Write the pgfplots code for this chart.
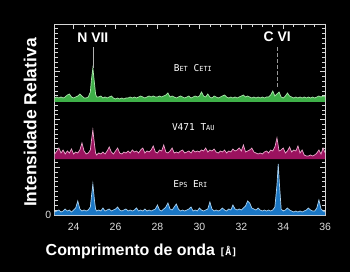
\documentclass[border=0pt]{standalone}
\usepackage{fontspec}
\setmainfont{Liberation Sans}
\newfontfamily\monof{DejaVu Sans Mono}
\usepackage{pgfplots}
\pgfplotsset{compat=1.18}
\usepackage{pgfplotstable}
\definecolor{gfill}{RGB}{62,176,72}
\definecolor{gline}{RGB}{170,230,170}
\definecolor{mfill}{RGB}{155,18,95}
\definecolor{mline}{RGB}{235,170,205}
\definecolor{bfill}{RGB}{26,118,196}
\definecolor{bline}{RGB}{170,210,240}
\definecolor{framec}{RGB}{215,215,215}

\pgfplotstableread{
x h
23.1 4
23.2 5
23.3 4
23.4 5
23.5 4
23.6 5
23.7 7
23.8 8
23.9 5
24.0 4
24.1 5
24.2 6
24.3 8
24.4 6
24.5 4
24.6 4
24.7 5
24.8 10
24.85 22
24.92 34
25.0 18
25.05 8
25.1 5
25.2 5
25.3 6
25.4 4
25.5 5
25.6 4
25.7 5
25.8 6
25.9 4
26.0 3
26.1 4
26.2 3
26.3 4
26.4 3
26.5 4
26.6 4
26.7 5
26.8 4
26.9 5
27.0 4
27.1 5
27.2 6
27.3 5
27.4 4
27.5 5
27.6 6
27.7 5
27.8 6
27.9 5
28.0 5
28.1 6
28.2 5
28.3 6
28.4 7
28.5 9
28.6 5
28.7 6
28.8 5
28.9 4
29.0 5
29.1 6
29.2 5
29.3 4
29.4 5
29.5 6
29.6 4
29.7 5
29.8 6
29.9 5
30.0 6
30.1 10
30.2 6
30.3 5
30.4 8
30.5 5
30.6 4
30.7 6
30.8 5
30.9 4
31.0 5
31.1 6
31.2 7
31.3 5
31.4 4
31.5 5
31.6 4
31.7 5
31.8 4
31.9 5
32.0 6
32.1 7
32.2 5
32.3 6
32.4 5
32.5 4
32.6 5
32.7 4
32.8 5
32.9 4
33.0 5
33.1 4
33.2 5
33.3 5
33.4 7
33.5 11
33.6 6
33.7 8
33.8 10
33.9 5
34.0 4
34.1 6
34.2 9
34.3 6
34.4 5
34.5 4
34.6 5
34.7 4
34.8 5
34.9 4
35.0 5
35.1 4
35.2 5
35.3 4
35.4 5
35.5 4
35.6 5
35.7 6
35.8 5
35.9 6
36.0 5
}\greentab

\pgfplotstableread{
x h
23.1 5
23.2 8
23.3 11
23.4 6
23.5 9
23.6 5
23.7 8
23.8 6
23.9 10
24.0 5
24.1 7
24.2 6
24.3 9
24.4 16
24.5 8
24.6 5
24.7 6
24.8 9
24.85 18
24.92 29
25.0 14
25.05 6
25.1 4
25.2 6
25.3 5
25.4 7
25.5 5
25.6 8
25.7 12
25.8 7
25.9 5
26.0 8
26.1 11
26.2 6
26.3 5
26.4 7
26.5 6
26.6 8
26.7 6
26.8 9
26.9 7
27.0 8
27.1 6
27.2 9
27.3 11
27.4 6
27.5 8
27.6 7
27.7 9
27.8 13
27.9 7
28.0 6
28.1 9
28.2 8
28.3 14
28.4 7
28.5 6
28.6 8
28.7 11
28.8 6
28.9 7
29.0 6
29.1 8
29.2 9
29.3 6
29.4 7
29.5 8
29.6 6
29.7 9
29.8 7
29.9 8
30.0 7
30.1 9
30.2 8
30.3 11
30.4 7
30.5 9
30.6 8
30.7 10
30.8 7
30.9 6
31.0 8
31.1 7
31.2 9
31.3 6
31.4 8
31.5 7
31.6 10
31.7 8
31.8 9
31.9 11
32.0 8
32.1 14
32.2 7
32.3 8
32.4 9
32.5 11
32.6 7
32.7 6
32.8 5
32.9 6
33.0 5
33.1 7
33.2 8
33.3 6
33.4 9
33.5 8
33.6 12
33.7 21
33.8 8
33.9 9
34.0 11
34.1 6
34.2 8
34.3 12
34.4 7
34.5 9
34.6 8
34.7 13
34.8 6
34.9 9
35.0 4
35.1 3
35.2 3
35.3 4
35.4 3
35.5 4
35.6 6
35.7 9
35.8 5
35.9 11
36.0 6
}\magentatab

\pgfplotstableread{
x h
23.1 3
23.2 4
23.3 5
23.4 3
23.5 4
23.6 6
23.7 4
23.8 5
23.9 3
24.0 5
24.1 7
24.2 14
24.3 6
24.4 4
24.5 5
24.6 4
24.7 5
24.8 8
24.85 18
24.92 31
25.0 14
25.05 6
25.1 4
25.2 5
25.3 4
25.4 7
25.5 4
25.6 5
25.7 6
25.8 4
25.9 5
26.0 6
26.1 8
26.2 5
26.3 4
26.4 5
26.5 6
26.6 4
26.7 5
26.8 4
26.9 5
27.0 7
27.1 4
27.2 5
27.3 4
27.4 6
27.5 4
27.6 5
27.7 4
27.8 5
27.9 6
28.0 10
28.1 5
28.2 4
28.3 6
28.4 8
28.5 12
28.6 6
28.7 5
28.8 8
28.9 11
29.0 6
29.1 4
29.2 5
29.3 4
29.4 5
29.5 6
29.6 8
29.7 4
29.8 5
29.9 4
30.0 7
30.1 5
30.2 4
30.3 5
30.4 6
30.5 13
30.6 6
30.7 4
30.8 5
30.9 4
31.0 5
31.1 7
31.2 5
31.3 4
31.4 6
31.5 5
31.6 10
31.7 6
31.8 5
31.9 6
32.0 5
32.1 7
32.2 9
32.3 14
32.4 12
32.5 7
32.6 6
32.7 5
32.8 7
32.9 5
33.0 4
33.1 5
33.2 4
33.3 5
33.4 4
33.5 5
33.6 8
33.7 30
33.76 51
33.82 30
33.9 6
34.0 4
34.1 5
34.2 7
34.3 5
34.4 4
34.5 3
34.6 4
34.7 3
34.8 4
34.9 3
35.0 4
35.1 5
35.2 7
35.3 5
35.4 4
35.5 4
35.6 7
35.7 15
35.8 6
35.9 4
36.0 3
}\bluetab

\begin{document}
\begin{tikzpicture}
\fill[black] (-54.7bp,-57bp) rectangle (295.3bp,215bp);
\begin{axis}[
  at={(0,0)}, anchor=south west,
  scale only axis, width=270.5bp, height=191bp,
  xmin=23.1, xmax=36, ymin=0, ymax=191,
  axis line style={framec, line width=0.8pt},
  xtick={24,26,...,36}, minor x tick num=3,
  ytick={0,47.75,95.5,143.25,191}, yticklabels={0,,,,},
  minor y tick num=9,
  tick align=inside,
  major tick length=5bp, minor tick length=3bp,
  every tick/.style={framec, line width=0.6pt},
  /pgf/number format/assume math mode=true,
  ticklabel style={text=gray!25, font=\fontsize{10.5}{10.5}\selectfont},
  xticklabel style={yshift=-5bp},
  xlabel={\fontsize{16}{16}\selectfont\bfseries Comprimento de onda \monof\fontsize{10}{10}\selectfont [Å]},
  xlabel style={text=white, at={(axis description cs:0.321,0)}, anchor=base, yshift=-40bp},
  ylabel={\fontsize{17.5}{17.5}\selectfont\bfseries Intensidade Relativa},
  ylabel style={text=white, at={(axis description cs:-0.091,0.484)}, anchor=center, rotate=0},
  clip=false,
]
% green
\addplot[fill=gfill, draw=none] table[x=x, y expr=\thisrow{h}+113] {\greentab} |- (axis cs:23.1,113) -- cycle;
\addplot[gline, line width=0.7pt] table[x=x, y expr=\thisrow{h}+113] {\greentab};
% magenta
\addplot[fill=mfill, draw=none] table[x=x, y expr=\thisrow{h}+56] {\magentatab} |- (axis cs:23.1,56) -- cycle;
\addplot[mline, line width=0.7pt] table[x=x, y expr=\thisrow{h}+56] {\magentatab};
% blue
\addplot[fill=bfill, draw=none] table[x=x, y expr=\thisrow{h}] {\bluetab} |- (axis cs:23.1,0) -- cycle;
\addplot[bline, line width=0.7pt] table[x=x, y expr=\thisrow{h}] {\bluetab};
% line markers
\addplot[gray!60, line width=0.6pt] coordinates {(24.92,168) (24.92,147)};
\addplot[gray!80, line width=0.6pt, dash pattern=on 4pt off 2pt] coordinates {(33.71,168) (33.71,127)};
\node[text=white, font=\fontsize{14}{14}\selectfont\bfseries] at (axis cs:24.92,177) {N VII};
\node[text=white, font=\fontsize{14}{14}\selectfont\bfseries] at (axis cs:33.71,178) {C VI};
\node[text=white, font=\monof\fontsize{9.5}{9.5}\selectfont] at (axis cs:29.69,147) {B{\fontsize{7}{7}\selectfont ET} C{\fontsize{7}{7}\selectfont ETI}};
\node[text=white, font=\monof\fontsize{9.5}{9.5}\selectfont] at (axis cs:29.71,88) {V471 T{\fontsize{7}{7}\selectfont AU}};
\node[text=white, font=\monof\fontsize{9.5}{9.5}\selectfont] at (axis cs:29.57,31) {E{\fontsize{7}{7}\selectfont PS} E{\fontsize{7}{7}\selectfont RI}};
\end{axis}
\pgfresetboundingbox
\useasboundingbox (-54.7bp,-57bp) rectangle (295.3bp,215bp);
\end{tikzpicture}
\end{document}
